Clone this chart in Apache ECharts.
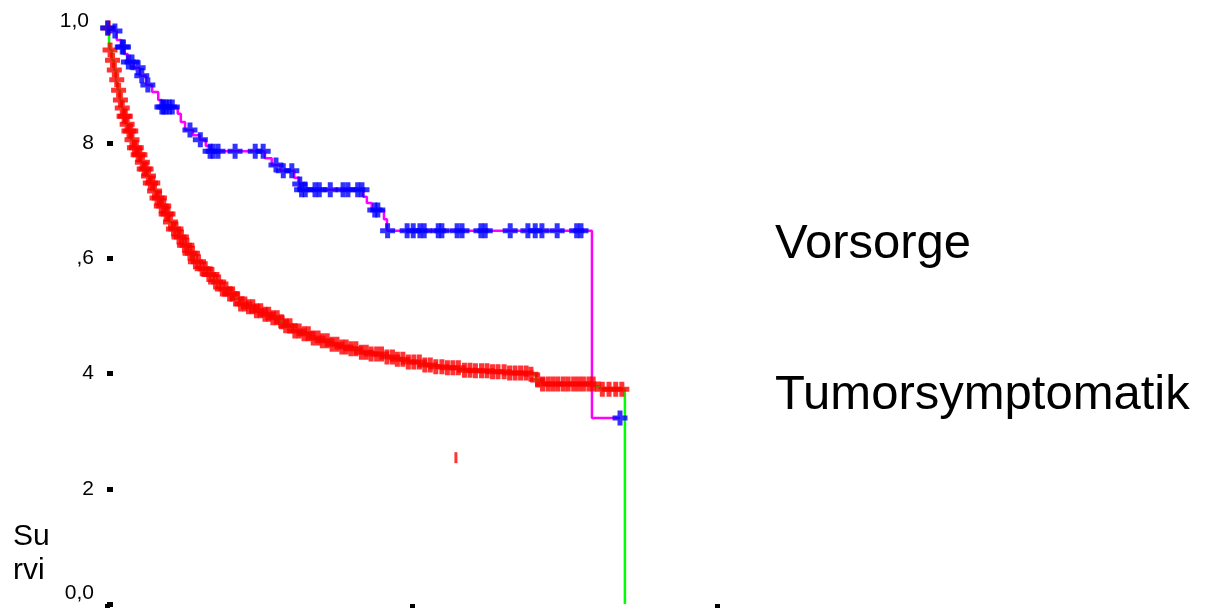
<!DOCTYPE html>
<html>
<head>
<meta charset="utf-8">
<script src="https://cdn.jsdelivr.net/npm/echarts@6/dist/echarts.min.js"></script>
<style>html,body{margin:0;padding:0;background:#fff;}#c{width:1212px;height:608px;}</style>
</head>
<body>
<div id="c"></div>
<script>
// y tick labels as printed (truncated in the original)
const yTickLabels = ['0,0', '2', '4', ',6', '8', '1,0'];
const yTickValues = [0, 0.2, 0.4, 0.6, 0.8, 1.0];

// Vorsorge: step curve (time, survival)
const vorsorgeCurve = [
  [0,1.0],[1.0,0.995],[1.6,0.979],[2.3,0.967],[2.8,0.955],[3.4,0.941],[4.4,0.931],[5.4,0.917],
  [6.4,0.901],[7.4,0.889],[8.4,0.875],[9.0,0.863],[11.6,0.851],[12.1,0.837],[12.8,0.823],
  [14.1,0.814],[15.2,0.806],[16.2,0.795],[16.9,0.786],[25.9,0.774],[27.0,0.762],[28.4,0.752],
  [30.7,0.740],[31.5,0.729],[31.8,0.719],[42.0,0.707],[42.6,0.696],[43.4,0.684],[45.4,0.668],
  [45.9,0.648],[79.5,0.323],[84.1,0.323]
];
// Vorsorge: censored times
const vorsorgeCensored = [
  0.1,1.3,2.5,2.7,3.5,4.1,5.1,5.7,6.7,9.0,9.3,9.7,10.2,10.7,13.6,15.3,16.9,17.4,18.2,21.0,
  24.3,25.6,27.7,28.9,30.3,31.6,31.9,32.5,34.1,34.8,36.6,38.7,39.5,41.1,41.8,43.9,44.4,46.0,
  49.2,50.2,51.3,52.0,54.3,54.9,57.4,58.2,61.3,62.0,66.1,69.0,70.2,71.3,73.8,77.0,77.7,84.1
];

// Tumorsymptomatik: step curve (time, survival)
const tumorCurve = [
  [0,1.0],[0.33,0.979],[0.49,0.962],[0.82,0.944],[1.15,0.927],[1.48,0.910],[1.80,0.892],
  [2.13,0.875],[2.46,0.861],[2.79,0.847],[3.11,0.833],[3.44,0.821],[3.93,0.806],[4.43,0.792],
  [4.92,0.780],[5.41,0.767],[5.90,0.755],[6.56,0.743],[7.05,0.731],[7.70,0.717],[8.20,0.705],
  [8.85,0.691],[9.51,0.677],[10.16,0.663],[10.82,0.651],[11.64,0.637],[12.46,0.623],
  [13.28,0.609],[14.10,0.594],[15.25,0.582],[16.39,0.572],[17.54,0.559],[18.52,0.547],
  [19.67,0.538],[20.66,0.530],[21.80,0.521],[22.95,0.516],[24.26,0.509],[25.57,0.503],
  [26.72,0.497],[28.03,0.490],[29.18,0.483],[30.49,0.474],[31.64,0.469],[33.28,0.462],
  [34.92,0.457],[36.56,0.451],[38.20,0.446],[39.84,0.443],[41.48,0.437],[43.11,0.434],
  [45.25,0.429],[47.21,0.425],[49.18,0.420],[51.31,0.415],[53.44,0.412],[55.41,0.410],
  [57.87,0.406],[60.33,0.405],[62.79,0.403],[65.25,0.401],[69.34,0.399],[70.33,0.389],
  [71.31,0.382],[79.84,0.378],[80.82,0.373],[84.9,0.0]
];
// Tumorsymptomatik: censored times
const tumorCensored = [
  0.2,0.5,0.9,1.2,1.6,1.9,2.2,2.5,2.8,3.0,3.3,3.6,3.9,4.1,4.5,4.8,5.1,5.4,5.8,6.1,6.4,6.8,
  7.1,7.5,7.8,8.2,8.6,8.9,9.3,9.7,10.0,10.4,10.9,11.3,11.8,12.2,12.7,13.1,13.6,14.0,14.5,
  15.0,15.6,16.1,16.7,17.2,17.8,18.3,18.9,19.5,20.1,20.6,21.3,21.9,22.6,23.2,23.9,24.5,25.2,
  25.9,26.5,27.2,27.9,28.6,29.3,30.0,30.8,31.5,32.3,33.0,33.8,34.6,35.3,36.1,36.9,37.7,38.5,
  39.2,40.0,40.8,41.7,42.5,43.3,44.2,45.0,45.9,46.8,47.6,48.5,49.4,50.3,51.2,52.1,53.0,53.9,
  54.9,55.8,56.7,57.6,58.6,59.5,60.4,61.4,62.3,63.2,64.1,65.1,66.0,66.9,67.8,68.7,69.5,70.6,
  71.4,72.3,73.1,73.9,74.8,75.6,76.5,77.3,78.1,79.0,79.7,81.2,82.3,83.4,84.4
];
// stray red mark in the plot
const strayMark = [[57.2, 0.254]];

const legendNames = ['Vorsorge', 'Tumorsymptomatik'];
const yAxisName = ['Su', 'rvi'];

function survivalAt(curve, t) {
  let s = curve[0][1];
  for (const p of curve) { if (p[0] <= t) s = p[1]; else break; }
  return s;
}
const vorsorgeMarks = vorsorgeCensored.map(t => [t, survivalAt(vorsorgeCurve, t)]);
const tumorMarks = tumorCensored.map(t => [t, survivalAt(tumorCurve, t)]);

const plus = 'path://M5,0H10V5H15V10H10V15H5V10H0V5H5Z';
const FONT = '"Liberation Sans", Arial, sans-serif';

const chart = echarts.init(document.getElementById('c'), null, {renderer: 'canvas'});
chart.setOption({
  animation: false,
  backgroundColor: '#ffffff',
  grid: {left: 107, top: 28, right: 495, bottom: 4, containLabel: false},
  xAxis: {
    type: 'value', min: 0, max: 100, interval: 50,
    axisLine: {show: false},
    axisTick: {show: true, length: 5, lineStyle: {color: '#000', width: 5}},
    axisLabel: {show: false},
    splitLine: {show: false}
  },
  yAxis: {
    type: 'value', min: 0, max: 1, interval: 0.2, offset: 3,
    axisLine: {show: false},
    axisTick: {show: true, inside: true, length: 6, lineStyle: {color: '#000', width: 5}},
    splitLine: {show: false},
    axisLabel: {
      margin: 10, color: '#000', fontFamily: FONT, fontSize: 21,
      formatter: function (v) {
        const i = yTickValues.findIndex(x => Math.abs(x - v) < 1e-6);
        const s = i >= 0 ? yTickLabels[i] : '';
        if (i === 5) return '{t|' + s + '}';
        if (i === 0) return '{b|' + s + '}';
        return s;
      },
      rich: {
        t: {fontFamily: FONT, fontSize: 21, color: '#000', padding: [0, 5, 14, 0]},
        b: {fontFamily: FONT, fontSize: 21, color: '#000', padding: [0, 0, 22, 0]}
      }
    }
  },
  graphic: [
    {type: 'text', left: 775, top: 220, style: {text: legendNames[0], font: '49px ' + FONT, fill: '#000'}},
    {type: 'text', left: 775, top: 371, style: {text: legendNames[1], font: '49px ' + FONT, fill: '#000'}},
    {type: 'text', left: 13, top: 522, style: {text: yAxisName[0], font: '30px ' + FONT, fill: '#000'}},
    {type: 'text', left: 13, top: 556, style: {text: yAxisName[1], font: '30px ' + FONT, fill: '#000'}}
  ],
  series: [
    {type: 'line', name: legendNames[1], data: tumorCurve, step: 'end', symbol: 'none',
     lineStyle: {color: '#00ff00', width: 2.5}, z: 1},
    {type: 'line', name: legendNames[0], data: vorsorgeCurve, step: 'end', symbol: 'none',
     lineStyle: {color: '#ff00ff', width: 2.5}, z: 2},
    {type: 'scatter', data: tumorMarks, symbol: plus, symbolSize: 15,
     itemStyle: {color: '#ff0000'}, z: 3},
    {type: 'scatter', data: vorsorgeMarks, symbol: plus, symbolSize: 15,
     itemStyle: {color: '#0000ff'}, z: 4},
    {type: 'scatter', data: strayMark, symbol: 'rect', symbolSize: [3, 11],
     itemStyle: {color: '#ff0000'}, z: 3}
  ]
});
</script>
</body>
</html>
